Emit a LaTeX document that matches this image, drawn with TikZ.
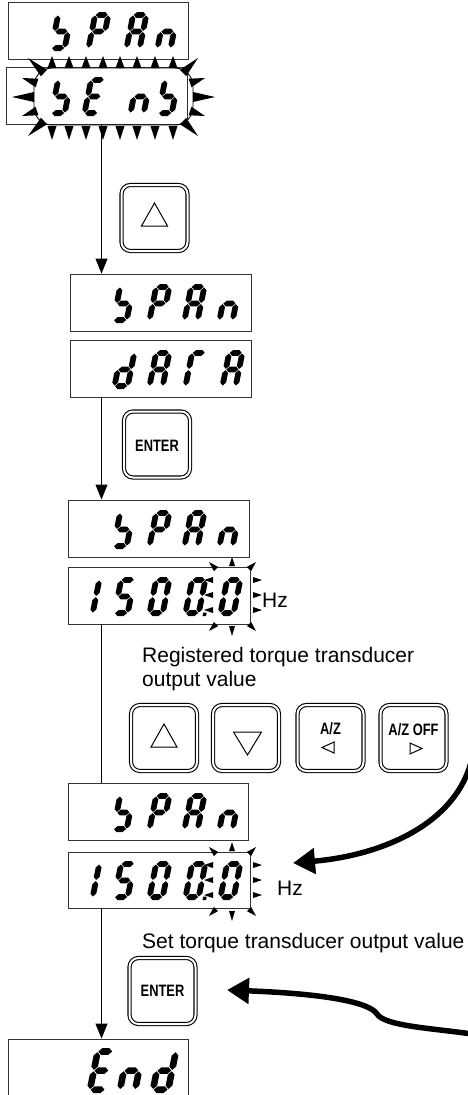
\documentclass[tikz,border=0pt]{standalone}
\usepackage{fontspec}
\setmainfont{Liberation Sans}
\usepackage{graphicx}
\usetikzlibrary{arrows.meta,calc}

\def\sevsega{(3.5,36.1)--(6.4,39)--(12.6,39)--(15.5,36.1)--(12.6,33.2)--(6.4,33.2)--cycle}
\def\sevsegg{(3.5,19.5)--(6.4,22.4)--(12.6,22.4)--(15.5,19.5)--(12.6,16.6)--(6.4,16.6)--cycle}
\def\sevsegd{(3.5,2.9)--(6.4,5.8)--(12.6,5.8)--(15.5,2.9)--(12.6,0)--(6.4,0)--cycle}
\def\sevsegf{(2.9,20.1)--(5.8,23.0)--(5.8,32.6)--(2.9,35.5)--(0,32.6)--(0,23.0)--cycle}
\def\sevsege{(2.9,3.5)--(5.8,6.4)--(5.8,16.0)--(2.9,18.9)--(0,16.0)--(0,6.4)--cycle}
\def\sevsegb{(16.1,20.1)--(19,23.0)--(19,32.6)--(16.1,35.5)--(13.2,32.6)--(13.2,23.0)--cycle}
\def\sevsegc{(16.1,3.5)--(19,6.4)--(19,16.0)--(16.1,18.9)--(13.2,16.0)--(13.2,6.4)--cycle}
\def\sevsegp{(20.5,0)--(24,0)--(24,3.5)--(20.5,3.5)--cycle}

\newcommand\segdigit[4][1]{%
  \begin{scope}[shift={(#2,-#3)},scale=#1,xslant=0.2]
    \foreach \s in {#4}{\expandafter\fill\csname sevseg\s\endcsname;}
  \end{scope}}

\newcommand\burstspike[5]{%
  \fill ($(#1,-#2)!#5!90:(#3,-#4)$) -- (#3,-#4) -- ($(#1,-#2)!#5!-90:(#3,-#4)$) -- cycle;}

\newcommand\blinkmarks{%
  \burstspike{232}{566}{232}{557}{3pt}
  \burstspike{216}{569}{209}{562}{3pt}
  \burstspike{249}{569}{256}{562}{3pt}
  \foreach \yy in {580,595,610}{\burstspike{253}{\yy}{262}{\yy}{3pt}\burstspike{213}{\yy}{204}{\yy}{3pt}}
  \burstspike{216}{624}{209}{631}{3pt}
  \burstspike{249}{624}{256}{631}{3pt}
  \burstspike{232}{626}{232}{636}{3pt}}

\begin{document}
\begin{tikzpicture}[x=1pt,y=1pt,
  box/.style={draw=black!80, line width=0.9pt, minimum width=181pt, minimum height=57pt, inner sep=0pt},
  btn/.style={draw, line width=1.1pt, double=white, double distance=2pt, rounded corners=9pt,
              minimum width=66pt, minimum height=66pt, inner sep=0pt},
  lbl/.style={font=\fontsize{21}{24}\selectfont, inner sep=0pt, anchor=base west},
  keytxt/.style={font=\fontsize{16.5}{16.5}\selectfont\bfseries, inner sep=0pt},
  flow/.style={line width=1pt, -{Triangle[length=15pt,width=12pt]}},
  plain/.style={line width=1pt},
  bigarrow/.style={line width=5.5pt, -{Triangle[length=22pt,width=25pt]}},
  keytri/.style={line width=1pt}]
\useasboundingbox (0,0) rectangle (467,-1095);

% display boxes
\node[box, minimum width=180pt] (b1) at (98,-30.5) {};
\node[box] (b2) at (96.5,-95.5) {};
\node[box] (b3) at (160.5,-302.5) {};
\node[box] (b4) at (160.5,-368.5) {};
\node[box] (b5) at (158.5,-528.5) {};
\node[box, minimum width=182pt] (b6) at (159,-595.5) {};
\node[box, minimum width=180pt] (b7) at (158,-811.5) {};
\node[box, minimum width=182pt, minimum height=56pt] (b8) at (159,-880) {};
\node[box, minimum width=180pt, minimum height=62pt] (bE) at (98,-1070) {};

% digits
\segdigit{48}{51}{f,g,c,d}
\segdigit{85}{51}{a,b,f,g,e}
\segdigit{123}{51}{a,b,c,e,f,g}
\segdigit{154}{51}{e,g,c}

\segdigit{48}{116}{f,g,c,d}
\segdigit{81}{116}{a,f,g,e,d}
\segdigit{127}{116}{e,g,c}
\segdigit{155}{116}{f,g,c,d}

\segdigit{110}{323}{f,g,c,d}
\segdigit{146}{323}{a,b,f,g,e}
\segdigit{181}{323}{a,b,c,e,f,g}
\segdigit{216}{323}{e,g,c}

\segdigit{111}{389}{b,c,d,e,g}
\segdigit{146}{389}{a,b,c,e,f,g}
\segdigit{182}{389}{a,f,e}
\segdigit{219}{389}{a,b,c,e,f,g}

\segdigit{110}{549}{f,g,c,d}
\segdigit{146}{549}{a,b,f,g,e}
\segdigit{181}{549}{a,b,c,e,f,g}
\segdigit{216}{549}{e,g,c}

\segdigit{76}{616}{b,c}
\segdigit{111}{616}{a,f,g,c,d}
\segdigit{146}{616}{a,b,c,d,e,f}
\segdigit{182}{616}{a,b,c,d,e,f,p}
\segdigit{217}{616}{a,b,c,d,e,f}

\segdigit{110}{832}{f,g,c,d}
\segdigit{146}{832}{a,b,f,g,e}
\segdigit{181}{832}{a,b,c,e,f,g}
\segdigit{216}{832}{e,g,c}

\segdigit{76}{900}{b,c}
\segdigit{111}{900}{a,f,g,c,d}
\segdigit{146}{900}{a,b,c,d,e,f}
\segdigit{182}{900}{a,b,c,d,e,f,p}
\segdigit{217}{900}{a,b,c,d,e,f}

\segdigit[1.15]{86}{1093}{a,f,g,e,d}
\segdigit[1.15]{116}{1093}{e,g,c}
\segdigit[1.15]{149}{1093}{b,c,d,e,g}

% blinking marks around SEnS
\draw[line width=0.9pt, rounded corners=18pt] (34,-68) rectangle (193,-125);
\foreach \x in {52,69,86,103,120,137,155,173}{%
  \burstspike{\x}{68}{\x}{56}{4.5pt}
  \burstspike{\x}{126}{\x}{140}{4.5pt}}
\burstspike{34}{97}{12}{97}{5pt}
\burstspike{37}{83}{22}{78}{4.5pt}
\burstspike{37}{111}{22}{116}{4.5pt}
\burstspike{44}{73}{28}{58}{4.5pt}
\burstspike{44}{121}{28}{136}{4.5pt}
\burstspike{193}{97}{215}{97}{5pt}
\burstspike{190}{83}{205}{78}{4.5pt}
\burstspike{190}{111}{205}{116}{4.5pt}
\burstspike{183}{73}{198}{58}{4.5pt}
\burstspike{183}{121}{198}{136}{4.5pt}

% blinking marks around last digit
\blinkmarks
\begin{scope}[yshift=-285pt]\blinkmarks\end{scope}

% keys
\node[btn] (up1) at (154.5,-218) {};
\node[btn] (ent1) at (157,-444.5) {};
\node[btn] (bu) at (164,-738) {};
\node[btn] (bd) at (246,-738) {};
\node[btn] (baz) at (330.5,-738) {};
\node[btn] (bazoff) at (413.5,-738) {};
\node[btn] (ent2) at (162.5,-991) {};

\draw[keytri] ([shift={(-13,-8)}]up1.center) -- ([shift={(13,-8)}]up1.center) -- ([shift={(0,15)}]up1.center) -- cycle;
\draw[keytri] ([shift={(-13,-9)}]bu.center) -- ([shift={(13,-9)}]bu.center) -- ([shift={(0,14)}]bu.center) -- cycle;
\draw[keytri] ([shift={(-12.5,6)}]bd.center) -- ([shift={(15.5,6)}]bd.center) -- ([shift={(1.5,-17)}]bd.center) -- cycle;
\draw[keytri] ([shift={(3.5,-4)}]baz.center) -- ([shift={(3.5,-15)}]baz.center) -- ([shift={(-8.5,-9.5)}]baz.center) -- cycle;
\draw[keytri] ([shift={(-3.5,-5)}]bazoff.center) -- ([shift={(-3.5,-16)}]bazoff.center) -- ([shift={(8.5,-10.5)}]bazoff.center) -- cycle;

\node[keytxt] (ent1t) at ([yshift=-1.5pt]ent1.center) {\scalebox{0.78}[1]{ENTER}};
\node[keytxt] (ent2t) at ([yshift=0pt]ent2.center) {\scalebox{0.78}[1]{ENTER}};
\node[keytxt] (azt) at ([yshift=9pt]baz.center) {\scalebox{0.78}[1]{A/Z}};
\node[keytxt] (azofft) at ([yshift=8pt]bazoff.center) {\scalebox{0.78}[1]{A/Z OFF}};

% texts
\node[lbl] (hz1) at (262,-607) {Hz};
\node[lbl] (hz2) at (277,-895) {Hz};
\node[lbl] (reg1) at (142,-662) {Registered torque transducer};
\node[lbl] (reg2) at (142,-686) {output value};
\node[lbl] (set) at (142,-948) {Set torque transducer output value};

% connectors
\coordinate (ax) at (101.5,0);
\draw[flow] (b2.south -| ax) -- (b3.north -| ax);
\draw[flow] (b4.south -| ax) -- (b5.north -| ax);
\draw[plain] (b6.south -| ax) -- (b7.north -| ax);
\draw[flow] (b8.south -| ax) -- (bE.north -| ax);

\coordinate (s1) at (472,-758);
\coordinate (t1) at (293,-863);
\coordinate (s2) at (472,-1034);
\coordinate (t2) at (227,-990);
\draw[bigarrow] (s1) .. controls (458,-822) and (385,-855) .. (t1);
\draw[bigarrow] (s2) .. controls (430,-1028) and (385,-1026) .. (377,-1014)
  .. controls (370,-1003) and (330,-994) .. (t2);
\end{tikzpicture}
\end{document}
